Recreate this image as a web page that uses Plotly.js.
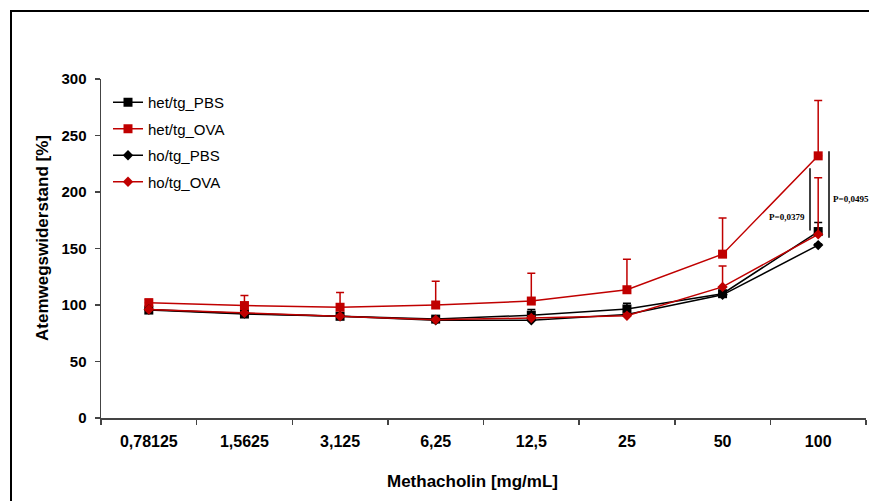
<!DOCTYPE html>
<html>
<head>
<meta charset="utf-8">
<script src="https://cdn.plot.ly/plotly-3.0.1.min.js"></script>
<style>
  html, body { margin: 0; padding: 0; background: #fff; }
  #wrap { position: relative; width: 869px; height: 501px; }
  #chart { width: 869px; height: 501px; }
  #frame { position: absolute; left: 10px; top: 10px; width: 870px; height: 500px;
           border-left: 2px solid #000; border-top: 2px solid #000; pointer-events: none; }
</style>
</head>
<body>
<div id="wrap">
  <div id="chart"></div>
  <div id="frame"></div>
</div>
<script>
// ---- data ----
const doses = ["0,78125", "1,5625", "3,125", "6,25", "12,5", "25", "50", "100"];

const hetPBS      = [95.5, 92, 90, 87.5, 91, 96.5, 110, 165];
const hetPBS_err  = [2, 2, 2, 2, 5, 5, 2, 8];

const hetOVA      = [102, 99.5, 98, 100, 103.5, 113.5, 145, 232];
const hetOVA_err  = [3, 9, 13, 21, 24.5, 27, 32, 49];

const hoPBS       = [96, 92.5, 90, 86.5, 86.5, 91.5, 109, 153];
const hoPBS_err   = [1, 1, 1, 1, 1, 1, 1, 1];

const hoOVA       = [96, 93, 90, 87, 88.5, 90.5, 116, 162.5];
const hoOVA_err   = [1, 1, 1, 1, 2, 2, 18.5, 50];

const seriesNames = ["het/tg_PBS", "het/tg_OVA", "ho/tg_PBS", "ho/tg_OVA"];

const xTitle = "Methacholin [mg/mL]";
const yTitle = "Atemwegswiderstand [%]";

const pTexts = ["P=0,0379", "P=0,0495"];
const pBars = [[166, 221], [159.5, 236]];
const pTextY = [178, 194];

// ---- styling ----
const RED = "#c00000";
const BLK = "#000000";
const zeros = doses.map(() => 0);

function trace(name, y, err, color, symbol, size, grp) {
  return {
    type: "scatter", mode: "lines+markers", name: name,
    x: doses, y: y, legendgroup: grp,
    line: { color: color, width: 1.5 },
    marker: { color: color, symbol: symbol, size: size },
    error_y: { type: "data", symmetric: false, array: err, arrayminus: zeros,
               color: color, thickness: 1.5, width: 4, visible: true },
    cliponaxis: false
  };
}

const data = [
  trace(seriesNames[0], hetPBS, hetPBS_err, BLK, "square", 9, "a"),
  trace(seriesNames[1], hetOVA, hetOVA_err, RED, "square", 9, "b"),
  trace(seriesNames[2], hoPBS, hoPBS_err, BLK, "diamond", 8, "c"),
  trace(seriesNames[3], hoOVA, hoOVA_err, RED, "diamond", 8, "d")
];

const plotL = 101, plotR = 866, plotT = 79, plotB = 418;
const px = v => (v - plotL) / (plotR - plotL);
const py = v => (plotB - v) / (plotB - plotT);

const SANS = "Liberation Sans, Arial, sans-serif";

const layout = {
  width: 869, height: 501,
  margin: { l: 101, r: 3, t: 79, b: 83 },
  paper_bgcolor: "#fff", plot_bgcolor: "#fff",
  font: { family: SANS, color: "#000" },
  showlegend: true,
  legend: {
    x: px(108), y: py(86), xanchor: "left", yanchor: "top",
    bgcolor: "rgba(0,0,0,0)", traceorder: "grouped", tracegroupgap: 4,
    font: { family: SANS, size: 15, color: "#000" },
    itemwidth: 30
  },
  xaxis: {
    type: "category", range: [-0.5, 7.5],
    showline: true, linecolor: "#444", linewidth: 1.5,
    ticks: "outside", tickson: "boundaries", ticklen: 5, tickcolor: "#444", tickwidth: 1.5,
    showgrid: false, zeroline: false, ticklabelstandoff: 8,
    tickfont: { family: "Liberation Sans Narrow, Arial Narrow, " + SANS, size: 16, weight: "bold" }
  },
  yaxis: {
    range: [0, 300], dtick: 50, tick0: 0,
    showline: true, linecolor: "#444", linewidth: 1.5,
    ticks: "outside", ticklen: 5, tickcolor: "#444", tickwidth: 1.5,
    showgrid: false, zeroline: false, ticklabelstandoff: 5,
    tickfont: { family: SANS, size: 15, weight: "bold" }
  },
  shapes: [
    { type: "line", xref: "paper", yref: "y", x0: px(810), x1: px(810), y0: pBars[0][0], y1: pBars[0][1],
      line: { color: "#000", width: 1.5 } },
    { type: "line", xref: "paper", yref: "y", x0: px(829), x1: px(829), y0: pBars[1][0], y1: pBars[1][1],
      line: { color: "#000", width: 1.5 } }
  ],
  annotations: [
    { xref: "paper", yref: "y", x: px(807), y: pTextY[0], text: "<b>" + pTexts[0] + "</b>",
      xanchor: "right", yanchor: "middle", showarrow: false,
      font: { family: "Liberation Serif, Times New Roman, serif", size: 9, color: "#000" } },
    { xref: "paper", yref: "y", x: px(831), y: pTextY[1], text: "<b>" + pTexts[1] + "</b>",
      xanchor: "left", yanchor: "middle", showarrow: false,
      font: { family: "Liberation Serif, Times New Roman, serif", size: 9, color: "#000" } },
    { xref: "paper", yref: "paper", x: px(472), y: py(481), text: "<b>" + xTitle + "</b>",
      xanchor: "center", yanchor: "middle", showarrow: false,
      font: { family: "Liberation Sans Narrow, Arial Narrow, " + SANS, size: 17, color: "#000" } },
    { xref: "paper", yref: "paper", x: px(43), y: py(238), text: "<b>" + yTitle + "</b>",
      textangle: -90, xanchor: "center", yanchor: "middle", showarrow: false,
      font: { family: SANS, size: 17, color: "#000" } }
  ]
};

Plotly.newPlot("chart", data, layout, { displayModeBar: false, staticPlot: true });
</script>
</body>
</html>
